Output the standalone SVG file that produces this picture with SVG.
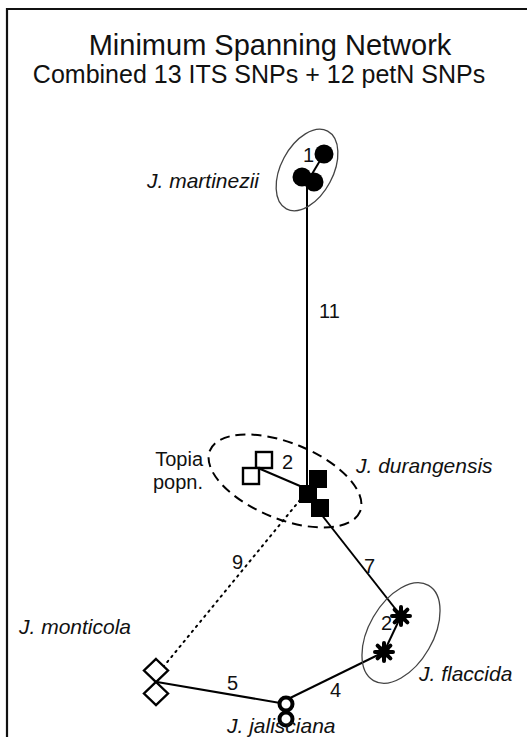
<svg xmlns="http://www.w3.org/2000/svg" width="527" height="737" viewBox="0 0 527 737">
<style>
.t{font-family:"Liberation Sans",Arial,sans-serif;fill:#111}
.sp{font-family:"Liberation Sans",Arial,sans-serif;font-style:italic;font-size:21px;fill:#111}
.num{font-family:"Liberation Sans",Arial,sans-serif;font-size:20px;fill:#111}
.edge{stroke:#000;stroke-width:2;fill:none}
.grp{stroke:#444;stroke-width:1.3;fill:none}
.open{fill:#fff;stroke:#000;stroke-width:2.4}
</style>
<defs>
<g id="ast">
<circle r="6" fill="#000"/>
<path d="M-9 0H9M0 -9V9M-6.4 -6.4L6.4 6.4M-6.4 6.4L6.4 -6.4" stroke="#000" stroke-width="4" stroke-linecap="round"/>
</g>
</defs>
<rect width="527" height="737" fill="#fff"/>
<path d="M7 737V9H527" stroke="#111" stroke-width="2.2" fill="none"/>
<text class="t" x="270" y="55" font-size="29" text-anchor="middle">Minimum Spanning Network</text>
<text class="t" x="259" y="83" font-size="25" text-anchor="middle">Combined 13 ITS SNPs + 12 petN SNPs</text>

<g id="connectors">
<line class="edge" x1="307" y1="182" x2="307" y2="486"/>
<line class="edge" x1="258" y1="468" x2="300" y2="486"/>
<line class="edge" x1="321" y1="514" x2="401" y2="616"/>
<line class="edge" x1="401" y1="616" x2="384" y2="652"/>
<line class="edge" x1="384" y1="652" x2="286" y2="700"/>
<line class="edge" x1="157" y1="682" x2="286" y2="704"/>
<line stroke="#000" stroke-width="2" stroke-dasharray="1.5 5" stroke-linecap="round" x1="300" y1="500" x2="164" y2="666"/>
<line class="edge" x1="324" y1="154" x2="309" y2="179"/>
<text class="num" x="319" y="318">11</text>
<text class="num" x="364" y="573">7</text>
<text class="num" x="330" y="697">4</text>
<text class="num" x="227" y="690">5</text>
<text class="num" x="232" y="569">9</text>
</g>

<g id="martinezii">
<ellipse class="grp" cx="307" cy="170" rx="26" ry="44" transform="rotate(28 307 170)"/>
<circle cx="324" cy="154" r="9.5" fill="#000"/>
<circle cx="314" cy="182" r="9.5" fill="#000"/>
<circle cx="302" cy="177" r="9.5" fill="#000"/>
<text class="num" x="303" y="162">1</text>
<text class="sp" x="147" y="188">J. martinezii</text>
</g>

<g id="durangensis">
<ellipse cx="285" cy="481" rx="81" ry="38" transform="rotate(22 285 481)" fill="none" stroke="#000" stroke-width="2" stroke-dasharray="10 6"/>
<rect x="309" y="470" width="18" height="18" fill="#000"/>
<rect x="299" y="485" width="18" height="18" fill="#000"/>
<rect x="311" y="499" width="18" height="18" fill="#000"/>
<text class="sp" x="356" y="473">J. durangensis</text>
</g>

<g id="topia">
<rect class="open" x="256" y="452" width="16" height="16"/>
<rect class="open" x="243" y="468" width="16" height="16"/>
<text class="num" x="282" y="469">2</text>
<text class="t" x="203" y="466" font-size="20" text-anchor="end">Topia</text>
<text class="t" x="203" y="489" font-size="20" text-anchor="end">popn.</text>
</g>

<g id="flaccida">
<ellipse class="grp" cx="401" cy="633" rx="32" ry="55" transform="rotate(30 401 633)"/>
<use href="#ast" x="401" y="616"/>
<use href="#ast" x="384" y="652"/>
<text class="num" x="381" y="630">2</text>
<text class="sp" x="419" y="681">J. flaccida</text>
</g>

<g id="jalisciana">
<circle cx="286" cy="704" r="6.5" fill="#fff" stroke="#000" stroke-width="4"/>
<circle cx="286" cy="719" r="6.5" fill="#fff" stroke="#000" stroke-width="4"/>
<text class="sp" x="227" y="733">J. jalisciana</text>
</g>

<g id="monticola">
<path class="open" d="M156 659L168 670.5L156 682L144 670.5Z"/>
<path class="open" d="M156 682L168 693.5L156 705L144 693.5Z"/>
<text class="sp" x="19" y="634">J. monticola</text>
</g>
</svg>
